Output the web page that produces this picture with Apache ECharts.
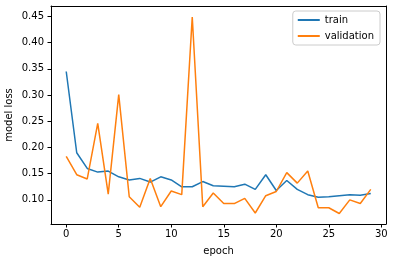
<!DOCTYPE html>
<html><head><meta charset="utf-8">
<script src="https://cdn.jsdelivr.net/npm/echarts@6/dist/echarts.min.js"></script>
<style>html,body{margin:0;padding:0;background:#fff}#c{width:393px;height:262px}</style>
</head><body><div id="c"></div>
<script>
const epochs = Array.from({length:30},(_,i)=>i);
const trainLoss = [0.345,0.190,0.160,0.153,0.155,0.144,0.138,0.141,0.134,0.144,0.138,0.125,0.125,0.135,0.127,0.126,0.125,0.130,0.120,0.148,0.118,0.137,0.120,0.110,0.105,0.106,0.108,0.110,0.109,0.112];
const valLoss = [0.183,0.148,0.140,0.246,0.111,0.301,0.106,0.086,0.141,0.087,0.117,0.110,0.449,0.087,0.113,0.093,0.093,0.103,0.075,0.108,0.116,0.152,0.132,0.155,0.085,0.085,0.074,0.100,0.093,0.120];
const xTicks = [0,5,10,15,20,25,30];
const yTicks = [0.10,0.15,0.20,0.25,0.30,0.35,0.40,0.45];
const font = 'DejaVu Sans';
const xMin = -1.45, xMax = 30.45, yMin = 0.054, yMax = 0.470;
const chart = echarts.init(document.getElementById('c'));
chart.setOption({
  animation:false,
  textStyle:{fontFamily:font},
  grid:{left:51,right:7,top:6,bottom:38,containLabel:false,outerBoundsMode:'none'},
  legend:{
    right:13,top:11,orient:'vertical',
    data:[{name:'train',icon:'rect'},{name:'validation',icon:'rect'}],
    itemWidth:22,itemHeight:2,itemGap:6,
    backgroundColor:'#fff',borderColor:'#ccc',borderWidth:1,borderRadius:3,
    padding:[4,6,4,5],
    textStyle:{fontFamily:font,fontSize:10,color:'#000'}
  },
  graphic:[{
    type:'text',x:9,y:115,rotation:Math.PI/2,
    style:{text:'model loss',fontFamily:font,fontSize:10,fill:'#000',align:'center',verticalAlign:'middle'}
  }],
  xAxis:[{
    type:'value',min:xMin,max:xMax,position:'bottom',
    name:'epoch',nameLocation:'middle',nameGap:22,
    nameTextStyle:{fontFamily:font,fontSize:10,color:'#000'},
    axisLine:{show:true,onZero:false,lineStyle:{color:'#000',width:1}},
    axisTick:{show:true,length:3.5,lineStyle:{color:'#000'},customValues:xTicks},
    axisLabel:{color:'#000',fontSize:10,fontFamily:font,margin:5,customValues:xTicks},
    splitLine:{show:false}
  },{
    type:'value',min:xMin,max:xMax,position:'top',
    axisLine:{show:true,onZero:false,lineStyle:{color:'#000',width:1}},
    axisTick:{show:false},axisLabel:{show:false},splitLine:{show:false}
  }],
  yAxis:[{
    type:'value',min:yMin,max:yMax,position:'left',
    axisLine:{show:true,onZero:false,lineStyle:{color:'#000',width:1}},
    axisTick:{show:true,length:3.5,lineStyle:{color:'#000'},customValues:yTicks},
    axisLabel:{color:'#000',fontSize:10,fontFamily:font,margin:7,customValues:yTicks,formatter:v=>v.toFixed(2)},
    splitLine:{show:false}
  },{
    type:'value',min:yMin,max:yMax,position:'right',
    axisLine:{show:true,onZero:false,lineStyle:{color:'#000',width:1}},
    axisTick:{show:false},axisLabel:{show:false},splitLine:{show:false}
  }],
  series:[
    {name:'train',type:'line',data:epochs.map((e,i)=>[e,trainLoss[i]]),showSymbol:false,symbol:'none',lineStyle:{color:'#1f77b4',width:1.5},itemStyle:{color:'#1f77b4'}},
    {name:'validation',type:'line',data:epochs.map((e,i)=>[e,valLoss[i]]),showSymbol:false,symbol:'none',lineStyle:{color:'#ff7f0e',width:1.5},itemStyle:{color:'#ff7f0e'}}
  ]
});
</script></body></html>
